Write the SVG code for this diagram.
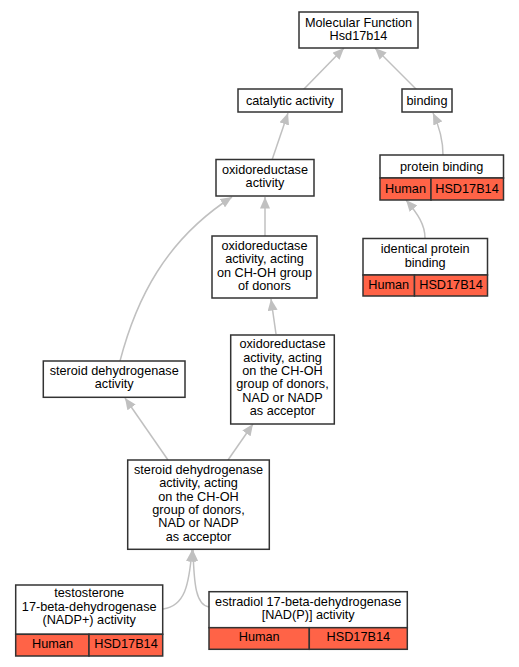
<svg xmlns="http://www.w3.org/2000/svg" width="519" height="667" viewBox="0 0 519 667">
<style>
text{font-family:"Liberation Sans",Arial,sans-serif;font-size:12.7px;fill:#000;text-anchor:middle}
.box{fill:#fff;stroke:#333;stroke-width:1.5}
.red{fill:#ff6347;stroke:#333;stroke-width:1.5}
.e{fill:none;stroke:#c0c0c0;stroke-width:1.5}
</style>
<defs>
<marker id="a" markerUnits="userSpaceOnUse" markerWidth="12" markerHeight="10" refX="11.5" refY="5" orient="auto">
<path d="M0,0 L11.5,5 L0,10 z" fill="#c0c0c0"/>
</marker>
</defs>
<rect width="519" height="667" fill="#fff"/>
<g id="edges">
<path class="e" marker-end="url(#a)" d="M303,90 L344,48"/>
<path class="e" marker-end="url(#a)" d="M417,90 L375,48"/>
<path class="e" marker-end="url(#a)" d="M272,160 L288,113"/>
<path class="e" marker-end="url(#a)" d="M443,155 C443,140 440,128 433,113"/>
<path class="e" marker-end="url(#a)" d="M265,236 L265,197"/>
<path class="e" marker-end="url(#a)" d="M425,238 C425,225 418,214 406,200"/>
<path class="e" marker-end="url(#a)" d="M276,334 L271,299"/>
<path class="e" marker-end="url(#a)" d="M120,361 C136,300 165,240 232,197"/>
<path class="e" marker-end="url(#a)" d="M168,460 L125,398"/>
<path class="e" marker-end="url(#a)" d="M228,460 L253,424"/>
<path class="e" marker-end="url(#a)" d="M163,609 C185,606 189,585 192,550"/>
<path class="e" marker-end="url(#a)" d="M209,607 C196,605 194,585 193,550"/>
</g>
<g id="n_mf">
<rect class="box" x="299" y="12" width="119" height="36"/>
<text x="358.5" y="26.5">Molecular Function</text>
<text x="358.5" y="39.5">Hsd17b14</text>
</g>
<g id="n_catalytic">
<rect class="box" x="238" y="89" width="104" height="23"/>
<text x="290" y="105">catalytic activity</text>
</g>
<g id="n_binding">
<rect class="box" x="402" y="89" width="50" height="23"/>
<text x="427" y="105">binding</text>
</g>
<g id="n_oxid">
<rect class="box" x="216" y="159.5" width="98" height="36.5"/>
<text x="265" y="173.5">oxidoreductase</text>
<text x="265" y="186.8">activity</text>
</g>
<g id="n_protein">
<rect class="box" x="380" y="155" width="123.5" height="23"/>
<text x="441.7" y="170.7">protein binding</text>
<rect class="red" x="380" y="178" width="51" height="22"/>
<rect class="red" x="431" y="178" width="72.5" height="22"/>
<text x="405.5" y="193">Human</text>
<text x="467" y="193">HSD17B14</text>
</g>
<g id="n_choh">
<rect class="box" x="212" y="236" width="105" height="62"/>
<text x="264.5" y="250">oxidoreductase</text>
<text x="264.5" y="263.3">activity, acting</text>
<text x="264.5" y="276.6">on CH-OH group</text>
<text x="264.5" y="289.9">of donors</text>
</g>
<g id="n_identical">
<rect class="box" x="363" y="238.5" width="124.5" height="36.5"/>
<text x="425.2" y="253.3">identical protein</text>
<text x="425.2" y="266.6">binding</text>
<rect class="red" x="363" y="275" width="51.5" height="21"/>
<rect class="red" x="414.5" y="275" width="73" height="21"/>
<text x="388.7" y="289">Human</text>
<text x="451" y="289">HSD17B14</text>
</g>
<g id="n_nad">
<rect class="box" x="230.7" y="335" width="103.6" height="89"/>
<text x="282.5" y="348.3">oxidoreductase</text>
<text x="282.5" y="361.6">activity, acting</text>
<text x="282.5" y="374.9">on the CH-OH</text>
<text x="282.5" y="388.2">group of donors,</text>
<text x="282.5" y="401.5">NAD or NADP</text>
<text x="282.5" y="414.8">as acceptor</text>
</g>
<g id="n_steroid">
<rect class="box" x="43.3" y="361" width="141.7" height="36.3"/>
<text x="114.2" y="375">steroid dehydrogenase</text>
<text x="114.2" y="388.3">activity</text>
</g>
<g id="n_steroid_nad">
<rect class="box" x="127.7" y="460" width="141.6" height="89.3"/>
<text x="198.5" y="474">steroid dehydrogenase</text>
<text x="198.5" y="487.3">activity, acting</text>
<text x="198.5" y="500.6">on the CH-OH</text>
<text x="198.5" y="513.9">group of donors,</text>
<text x="198.5" y="527.2">NAD or NADP</text>
<text x="198.5" y="540.5">as acceptor</text>
</g>
<g id="n_testosterone">
<rect class="box" x="15.7" y="585" width="147" height="49.3"/>
<text x="89.2" y="597">testosterone</text>
<text x="89.2" y="610.8">17-beta-dehydrogenase</text>
<text x="89.2" y="624.3">(NADP+) activity</text>
<rect class="red" x="15.7" y="634.3" width="73.3" height="21.7"/>
<rect class="red" x="89" y="634.3" width="73.7" height="21.7"/>
<text x="52.5" y="648">Human</text>
<text x="126" y="648">HSD17B14</text>
</g>
<g id="n_estradiol">
<rect class="box" x="209" y="591.7" width="198.3" height="36"/>
<text x="308.2" y="605.7">estradiol 17-beta-dehydrogenase</text>
<text x="308.2" y="619">[NAD(P)] activity</text>
<rect class="red" x="209" y="627.7" width="100.3" height="21.6"/>
<rect class="red" x="309.3" y="627.7" width="98" height="21.6"/>
<text x="259.2" y="641.3">Human</text>
<text x="358.3" y="641.3">HSD17B14</text>
</g>
</svg>
